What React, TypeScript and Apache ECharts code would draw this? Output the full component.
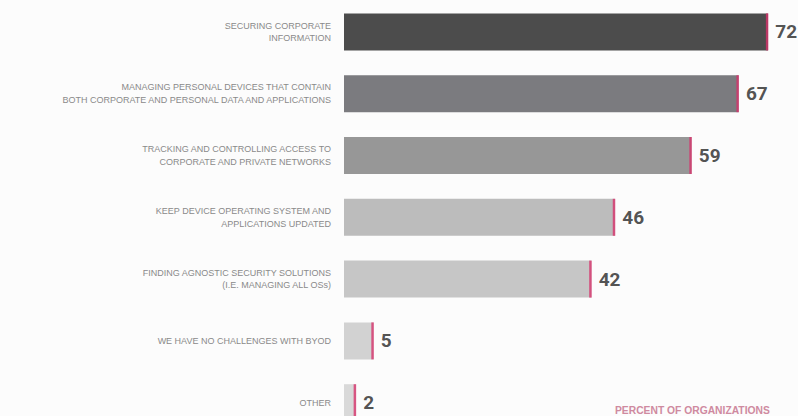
import React, { useEffect, useRef } from "react";
import * as echarts from "echarts";

const categories = [
  "SECURING CORPORATE\nINFORMATION",
  "MANAGING PERSONAL DEVICES THAT CONTAIN\nBOTH CORPORATE AND PERSONAL DATA AND APPLICATIONS",
  "TRACKING AND CONTROLLING ACCESS TO\nCORPORATE AND PRIVATE NETWORKS",
  "KEEP DEVICE OPERATING SYSTEM AND\nAPPLICATIONS UPDATED",
  "FINDING AGNOSTIC SECURITY SOLUTIONS\n(I.E. MANAGING ALL OSs)",
  "WE HAVE NO CHALLENGES WITH BYOD",
  "OTHER",
];
const values = [72, 67, 59, 46, 42, 5, 2];
const barColors = ["#4c4c4c", "#7b7b7f", "#979797", "#bcbcbc", "#c6c6c6", "#d2d2d2", "#d9d9d9"];
const axisTitle = "PERCENT OF ORGANIZATIONS";

export default function App() {
  const ref = useRef<HTMLDivElement>(null);
  useEffect(() => {
    if (!ref.current) return;
    const chart = echarts.init(ref.current, undefined, { renderer: "svg" });
    chart.setOption({
      animation: false,
      backgroundColor: "#fcfcfc",
      grid: { left: 344, width: 424, top: 1, height: 432.6, containLabel: false },
      xAxis: {
        type: "value",
        min: 0,
        max: 72,
        show: false,
      },
      yAxis: {
        type: "category",
        inverse: true,
        data: categories,
        axisLine: { show: false },
        axisTick: { show: false },
        splitLine: { show: false },
        axisLabel: {
          align: "right",
          margin: 13,
          fontSize: 9,
          lineHeight: 12.5,
          color: "#8a8a8a",
          fontFamily: "'Liberation Sans', Arial, sans-serif",
        },
      },
      series: [
        {
          type: "bar",
          data: values.map((v, i) => ({ value: v, itemStyle: { color: barColors[i] } })),
          barWidth: 37,
          silent: true,
        },
        {
          type: "scatter",
          data: values.map((v, i) => [v - 0.15, i, v]),
          symbol: "rect",
          symbolSize: [2.5, 37],
          itemStyle: { color: "#d6336c" },
          label: {
            show: true,
            position: "right",
            distance: 7,
            formatter: (p: any) => String(p.data[2]),
            fontSize: 19,
            fontWeight: "bold",
            color: "#262626",
            fontFamily: "Roboto, 'DejaVu Sans', sans-serif",
          },
          silent: true,
        },
      ],
      graphic: [
        {
          type: "text",
          left: 615,
          top: 405,
          style: {
            text: axisTitle,
            fontSize: 10.3,
            fontWeight: "bold",
            fill: "#cf8aa0",
            fontFamily: "'Liberation Sans', Arial, sans-serif",
          },
        },
      ],
    });
    return () => chart.dispose();
  }, []);
  return (
    <div style={{ position: "fixed", left: 0, top: 0, width: 798, height: 416, overflow: "hidden" }}>
      <div ref={ref} style={{ width: 798, height: 440 }} />
    </div>
  );
}
